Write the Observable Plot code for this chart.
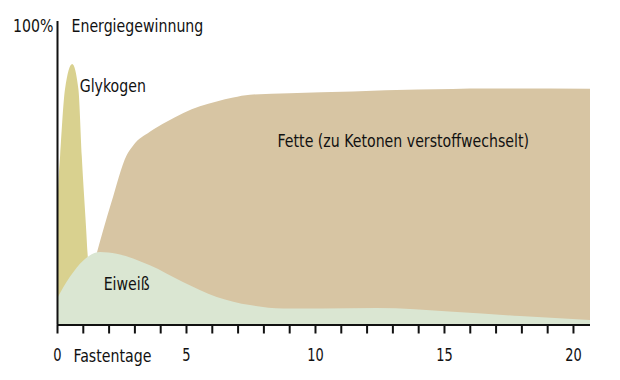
<!DOCTYPE html>
<html>
<head>
<meta charset="utf-8">
<script src="https://cdn.jsdelivr.net/npm/d3@7"></script>
<script src="https://cdn.jsdelivr.net/npm/@observablehq/plot@0.6"></script>
<style>
  html, body { margin: 0; padding: 0; background: #fff; }
  #chart svg { display: block; }
</style>
</head>
<body>
<div id="chart"></div>
<script>
// Fastentage (days) and share of energy production (%)
const glykogenDays = [0, 0.05, 0.12, 0.31, 0.59, 0.83, 0.96, 1.19, 1.24];
const glykogenPct  = [36, 46, 55.5, 77.5, 85.8, 77.5, 55.5, 22.8, 14];

const fetteDays = [1.54, 2.1, 2.7, 2.96, 3.6, 4.25, 4.9, 5.54, 6.19, 6.83, 7.48, 9, 11.47, 14, 16.67, 20.66];
const fettePct  = [23.5, 40, 55.8, 59.1, 63.5, 66.8, 69.7, 71.9, 73.5, 74.8, 75.7, 76.2, 76.8, 77.4, 77.8, 77.7];

const eiweissDays = [0, 0.5, 1.02, 1.67, 2.31, 3.6, 4.88, 6.19, 7.48, 8.76, 10.31, 12.39, 15.35, 17.95, 20.66];
const eiweissPct  = [8.5, 15.7, 21.1, 23.9, 23.3, 19.5, 14.0, 9.1, 6.4, 5.3, 5.3, 5.4, 4.2, 2.8, 1.5];

const dayTicks = d3.range(0, 21);
const tickLabels = [0, 5, 10, 15, 20];
const xMax = 20.66;

const seriesLabels = [
  {name: "Glykogen", x: 0.86, y: 76.9},
  {name: "Fette (zu Ketonen verstoffwechselt)", x: 8.53, y: 58.5},
  {name: "Eiweiß", x: 1.79, y: 11.4}
];

const toRows = (xs, ys) => xs.map((x, i) => ({x, y: ys[i]}));
const glykogen = toRows(glykogenDays, glykogenPct);
const fette = toRows(fetteDays, fettePct);
const eiweiss = toRows(eiweissDays, eiweissPct);

const FONT = '"Liberation Sans Narrow", "DejaVu Sans Condensed", "DejaVu Sans", sans-serif';
const FS = 18.5;
const INK = "#111";

const chart = Plot.plot({
  width: 620,
  height: 380,
  marginLeft: 57,
  marginRight: 30,
  marginTop: 21,
  marginBottom: 55.5,
  style: {fontFamily: FONT, fontSize: FS + "px", color: INK, background: "#fff"},
  x: {domain: [0, xMax]},
  y: {domain: [0, 100], axis: null},
  marks: [
    Plot.areaY(fette, {x: "x", y: "y", curve: "monotone-x", fill: "#d7c5a3"}),
    Plot.areaY(glykogen, {x: "x", y: "y", curve: "monotone-x", fill: "#d9d18f"}),
    Plot.areaY(eiweiss, {x: "x", y: "y", curve: "monotone-x", fill: "#dae6d2"}),
    Plot.axisX({
      ticks: dayTicks,
      tickSize: 9,
      tickPadding: 14,
      strokeWidth: 2,
      stroke: INK,
      fill: INK,
      fontSize: FS,
      tickFormat: d => tickLabels.includes(d) ? String(d) : "",
      label: null
    }),
    Plot.ruleY([0], {stroke: INK, strokeWidth: 2}),
    Plot.ruleX([0], {stroke: INK, strokeWidth: 2}),
    Plot.text(seriesLabels, {x: "x", y: "y", text: "name", textAnchor: "start", lineAnchor: "bottom", fontSize: FS, fill: INK}),
    Plot.text(["100%"], {x: 0, y: 100, text: d => d, textAnchor: "end", lineAnchor: "bottom", dx: -4, dy: 10, fontSize: FS, fill: INK, clip: false}),
    Plot.text(["Energiegewinnung"], {x: 0, y: 100, text: d => d, textAnchor: "start", lineAnchor: "bottom", dx: 14, dy: 10, fontSize: FS, fill: INK}),
    Plot.text(["Fastentage"], {x: 0, y: 0, text: d => d, textAnchor: "start", lineAnchor: "bottom", dx: 16, dy: 37.2, fontSize: FS, fill: INK})
  ]
});
document.getElementById("chart").appendChild(chart);

// Condense glyphs horizontally to imitate the narrow typeface of the original
chart.querySelectorAll("text").forEach(t => {
  const s = t.textContent;
  if (!s) return;
  const w = t.getComputedTextLength();
  if (!w) return;
  const factor = /^\d+$/.test(s) ? 0.78 : 0.85;
  t.setAttribute("textLength", (w * factor).toFixed(1));
  t.setAttribute("lengthAdjust", "spacingAndGlyphs");
});
</script>
</body>
</html>
